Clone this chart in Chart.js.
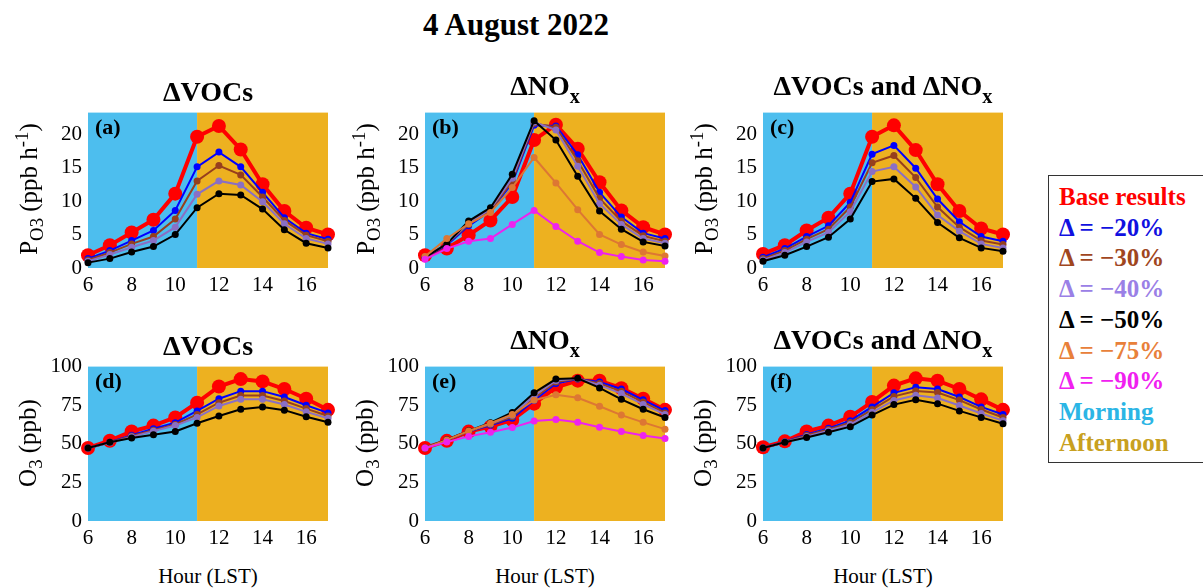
<!DOCTYPE html>
<html>
<head>
<meta charset="utf-8">
<script src="https://cdn.jsdelivr.net/npm/chart.js@4.4.1/dist/chart.umd.min.js"></script>
<style>
  html, body { margin:0; padding:0; background:#fff; }
  body { width:1203px; height:588px; position:relative; overflow:hidden; font-family:"Liberation Serif","Times New Roman",serif; color:#000; }
  canvas.pc { position:absolute; }
  .t { position:absolute; white-space:nowrap; line-height:1; font-family:"Liberation Serif","Times New Roman",serif; }
  .ttl { font-weight:bold; font-size:28px; transform:translateX(-50%); }
  .sub { position:relative; top:0.42em; font-size:0.72em; }
  .yl { font-size:25px; transform:translate(-50%,-50%) rotate(-90deg); }
  .xl { font-size:21px; transform:translateX(-50%); }
  .pl { font-size:22px; font-weight:bold; }
  #legend { position:absolute; left:1048px; top:175px; width:185px; height:288px; border:1.5px solid #333; box-sizing:border-box; background:#fff; }
  #legend div { position:absolute; left:10px; font-size:25px; font-weight:bold; line-height:1; white-space:nowrap; font-family:"Liberation Serif","Times New Roman",serif; }
</style>
</head>
<body>
<script>
// ---------------- DATA ----------------
const hours = [6,7,8,9,10,11,12,13,14,15,16,17];
const xTicks = [6,8,10,12,14,16];
const pTicks = [0,5,10,15,20];
const oTicks = [0,25,50,75,100];

// (a) P_O3, ΔVOCs
const a_base = [1.9,3.4,5.3,7.2,11.1,19.6,21.2,17.7,12.5,8.5,6.0,5.0];
const a_m20  = [1.4,2.6,4.1,5.6,8.6,15.1,17.3,15.1,11.3,7.5,5.2,4.3];
const a_m30  = [1.2,2.3,3.6,4.7,7.3,13.0,15.3,13.9,10.6,7.1,4.9,4.0];
const a_m40  = [1.0,2.0,3.1,4.1,6.1,11.0,13.0,12.4,9.9,6.6,4.4,3.6];
const a_m50  = [0.8,1.4,2.4,3.2,5.0,9.0,11.1,10.9,8.8,5.7,3.7,3.0];

// (b) P_O3, ΔNOx
const b_base = [1.9,2.9,4.9,7.1,10.6,19.1,21.4,17.8,12.8,8.6,6.1,5.0];
const b_m20  = [1.6,3.4,6.3,8.5,12.7,21.3,21.2,16.9,11.3,7.6,5.2,4.4];
const b_m30  = [1.6,3.6,6.5,8.6,13.0,21.6,21.0,16.0,10.4,7.0,4.8,4.0];
const b_m40  = [1.6,3.6,6.7,8.8,13.4,21.8,20.6,15.2,9.6,6.5,4.4,3.7];
const b_m50  = [1.6,3.6,7.0,9.0,14.0,22.0,19.1,13.7,8.5,5.8,3.9,3.3];
const b_m75  = [1.7,4.4,6.6,8.3,12.0,16.5,12.7,8.7,5.0,3.5,2.4,1.8];
const b_m90  = [1.3,2.9,4.0,4.4,6.5,8.6,6.2,4.0,2.3,1.7,1.2,1.0];

// (c) P_O3, ΔVOCs and ΔNOx
const c_base = [2.1,3.4,5.6,7.5,11.1,19.6,21.3,17.6,12.5,8.5,5.9,5.0];
const c_m20  = [1.6,2.9,4.7,6.3,9.8,17.0,18.3,14.9,10.3,6.9,4.7,4.0];
const c_m30  = [1.4,2.6,4.3,5.8,9.1,15.7,16.8,13.5,9.1,6.1,4.1,3.5];
const c_m40  = [1.2,2.3,3.9,5.3,8.4,14.4,15.1,12.1,7.9,5.5,3.6,3.0];
const c_m50  = [1.0,1.9,3.2,4.6,7.3,12.9,13.3,10.4,6.8,4.5,3.0,2.5];

// (d) O3, ΔVOCs
const d_base = [47.3,52.0,58.0,61.8,67.1,76.6,87.1,91.9,90.4,85.5,79.2,72.0];
const d_m20  = [47.3,51.0,55.5,59.7,63.7,71.3,79.2,84.1,84.1,80.3,75.0,70.0];
const d_m30  = [47.3,50.8,55.0,58.8,62.5,69.0,76.6,81.3,81.3,77.7,72.8,68.0];
const d_m40  = [47.3,50.6,54.5,58.2,61.8,67.1,74.5,78.8,78.8,75.4,70.7,66.5];
const d_m50  = [47.3,51.0,53.7,55.8,58.0,63.3,68.0,72.4,73.9,71.8,67.5,64.0];

// (e) O3, ΔNOx
const e_base = [47.3,51.9,57.9,61.1,65.4,76.0,86.6,90.9,90.9,86.0,79.2,72.0];
const e_m20  = [47.3,52.2,58.0,62.0,66.5,78.0,89.0,92.0,90.0,85.5,78.5,71.5];
const e_m30  = [47.3,52.3,58.1,62.5,67.5,79.5,90.0,92.2,89.0,84.0,77.0,70.0];
const e_m40  = [47.3,52.5,58.2,63.0,68.5,81.0,91.0,92.3,88.0,82.5,75.5,69.0];
const e_m50  = [47.3,52.7,58.4,63.7,70.3,83.0,91.9,92.4,86.2,78.8,72.4,67.0];
const e_m75  = [47.3,52.5,58.3,63.3,69.0,78.2,81.7,79.8,74.3,68.6,63.9,59.5];
const e_m90  = [47.3,51.1,54.8,57.5,60.5,64.8,65.8,63.9,60.7,58.0,55.4,53.5];

// (f) O3, ΔVOCs and ΔNOx
const f_base = [47.8,51.6,58.0,61.8,67.5,77.1,87.7,92.4,90.9,85.5,78.8,72.0];
const f_m20  = [47.3,51.3,56.0,60.0,65.0,73.9,83.0,86.6,85.5,80.3,73.9,69.0];
const f_m30  = [47.3,51.2,55.5,59.3,63.8,72.2,80.7,84.2,83.2,78.3,72.2,67.0];
const f_m40  = [47.3,51.1,54.8,58.4,62.5,70.4,78.1,81.4,79.6,74.8,69.6,65.0];
const f_m50  = [47.3,51.0,54.1,57.5,61.1,68.6,75.4,78.5,76.0,71.3,67.1,63.0];

const legendLabels = ['Base results','\u0394 = \u221220%','\u0394 = \u221230%','\u0394 = \u221240%','\u0394 = \u221250%','\u0394 = \u221275%','\u0394 = \u221290%','Morning','Afternoon'];

// ---------------- STYLE ----------------
const C = { base:'#FF0000', m20:'#0000FF', m30:'#963F1E', m40:'#8A6FC4', m50:'#000000', m75:'#DD7733', m90:'#EE22EE' };
const legendColors = ['#FF0000','#1010E0','#A0461E','#9A80E6','#000000','#E8803A','#F020F0','#2BB5E5','#C8A020'];
const MORNING_BG = '#4DBEEE', AFTERNOON_BG = '#EDB120';
const FONT = '"Liberation Serif","Times New Roman",serif';

const bgPlugin = {
  id:'bgPeriods',
  beforeDatasetsDraw(chart){
    const {ctx, chartArea:{top,bottom}, scales:{x}} = chart;
    const x0 = x.getPixelForValue(6), x1 = x.getPixelForValue(11), x2 = x.getPixelForValue(17);
    ctx.save();
    ctx.fillStyle = MORNING_BG; ctx.fillRect(x0, top, x1-x0, bottom-top);
    ctx.fillStyle = AFTERNOON_BG; ctx.fillRect(x1, top, x2-x1, bottom-top);
    ctx.restore();
  }
};

const PAD_L = 52, PAD_T = 16, PAD_R = 14, PAD_B = 36, PW = 240;

function makePanel(plotLeft, plotTop, plotH, yMax, yTicks, series){
  const cv = document.createElement('canvas');
  cv.className = 'pc';
  const w = PAD_L + PW + PAD_R, h = PAD_T + plotH + PAD_B;
  cv.width = w; cv.height = h;
  cv.style.left = (plotLeft - PAD_L) + 'px';
  cv.style.top = (plotTop - PAD_T) + 'px';
  cv.style.width = w + 'px'; cv.style.height = h + 'px';
  document.body.appendChild(cv);
  const n = series.length;
  const datasets = series.map(([data, key], i) => {
    const isBase = key === 'base';
    return {
      data: hours.map((hh, j) => ({x: hh, y: data[j]})),
      borderColor: C[key], backgroundColor: C[key],
      pointBackgroundColor: C[key], pointBorderColor: C[key],
      borderWidth: isBase ? 4 : 2,
      pointRadius: isBase ? 7 : 3.5,
      pointBorderWidth: 0,
      tension: 0, clip: false, order: n - i
    };
  });
  new Chart(cv, {
    type:'line',
    data:{ datasets },
    options:{
      responsive:false, animation:false, devicePixelRatio:1,
      layout:{ padding:{ left:0, top:PAD_T, right:PAD_R, bottom:0 } },
      plugins:{ legend:{display:false}, tooltip:{enabled:false}, title:{display:false} },
      scales:{
        x:{ type:'linear', min:6, max:17,
            grid:{display:false, drawTicks:false}, border:{display:false},
            afterBuildTicks(s){ s.ticks = xTicks.map(v=>({value:v})); },
            afterFit(s){ s.height = PAD_B; },
            ticks:{ font:{family:FONT, size:21}, color:'#000', padding:5, maxRotation:0, autoSkip:false } },
        y:{ type:'linear', min:0, max:yMax,
            grid:{display:false, drawTicks:false}, border:{display:false},
            afterBuildTicks(s){ s.ticks = yTicks.map(v=>({value:v})); },
            afterFit(s){ s.width = PAD_L; },
            ticks:{ font:{family:FONT, size:21}, color:'#000', padding:6, autoSkip:false } }
      }
    },
    plugins:[bgPlugin]
  });
}

const COLS = [88, 425, 763];
const TOP1 = 110, H1 = 158, TOP2 = 364, H2 = 157;
const P_MAX = 23.2, O_MAX = 100;

makePanel(COLS[0], TOP1, H1, P_MAX, pTicks, [[a_base,'base'],[a_m20,'m20'],[a_m30,'m30'],[a_m40,'m40'],[a_m50,'m50']]);
makePanel(COLS[1], TOP1, H1, P_MAX, pTicks, [[b_base,'base'],[b_m20,'m20'],[b_m30,'m30'],[b_m40,'m40'],[b_m50,'m50'],[b_m75,'m75'],[b_m90,'m90']]);
makePanel(COLS[2], TOP1, H1, P_MAX, pTicks, [[c_base,'base'],[c_m20,'m20'],[c_m30,'m30'],[c_m40,'m40'],[c_m50,'m50']]);
makePanel(COLS[0], TOP2, H2, O_MAX, oTicks, [[d_base,'base'],[d_m20,'m20'],[d_m30,'m30'],[d_m40,'m40'],[d_m50,'m50']]);
makePanel(COLS[1], TOP2, H2, O_MAX, oTicks, [[e_base,'base'],[e_m20,'m20'],[e_m30,'m30'],[e_m40,'m40'],[e_m50,'m50'],[e_m75,'m75'],[e_m90,'m90']]);
makePanel(COLS[2], TOP2, H2, O_MAX, oTicks, [[f_base,'base'],[f_m20,'m20'],[f_m30,'m30'],[f_m40,'m40'],[f_m50,'m50']]);

// ---------------- TEXT ----------------
function addText(cls, html, left, top){
  const d = document.createElement('div');
  d.className = 't ' + cls; d.innerHTML = html;
  d.style.left = left + 'px'; d.style.top = top + 'px';
  document.body.appendChild(d); return d;
}
const NOX = '\u0394NO<span class="sub">x</span>';
const titles = ['\u0394VOCs', NOX, '\u0394VOCs and ' + NOX];
const titleRaise = [0, 6, 6];
[TOP1, TOP2].forEach(top => {
  COLS.forEach((l, i) => addText('ttl', titles[i], l + PW/2, top - 32 - titleRaise[i]));
});
addText('ttl', '4 August 2022', 516, 9).style.fontSize = '31px';

const yLabP = 'P<sub style="font-size:0.75em">O3</sub> (ppb h<sup style="font-size:0.75em">-1</sup>)';
const yLabO = 'O<sub style="font-size:0.75em">3</sub> (ppb)';
COLS.forEach(l => {
  addText('yl', yLabP, l - 58, TOP1 + H1/2);
  addText('yl', yLabO, l - 58, TOP2 + H2/2);
  addText('xl', 'Hour (LST)', l + PW/2, 566);
});
const plabs = ['(a)','(b)','(c)','(d)','(e)','(f)'];
[TOP1, TOP2].forEach((top, r) => COLS.forEach((l, i) => addText('pl', plabs[r*3+i], l + 7, top + 6)));

const lg = document.createElement('div'); lg.id = 'legend'; document.body.appendChild(lg);
legendLabels.forEach((t, i) => {
  const d = document.createElement('div');
  d.textContent = t; d.style.color = legendColors[i];
  d.style.top = (8 + i * 30.7) + 'px';
  lg.appendChild(d);
});
</script>
</body>
</html>
